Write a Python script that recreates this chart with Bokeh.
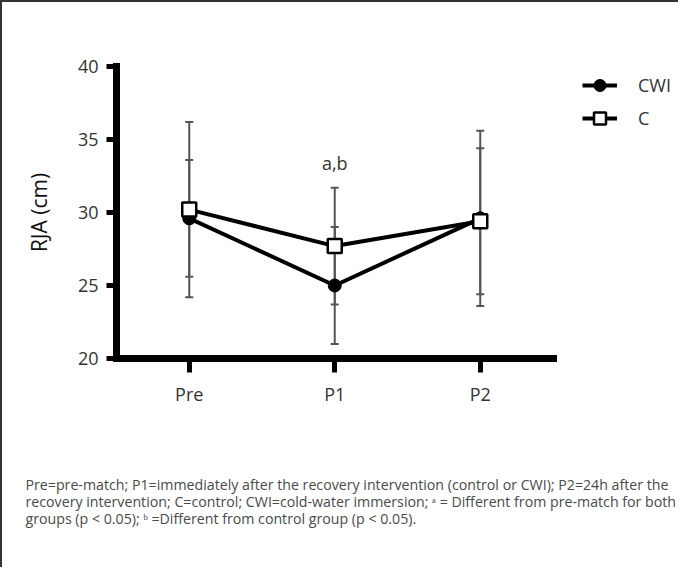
from bokeh.plotting import figure
from bokeh.models import (ColumnDataSource, Whisker, TeeHead, Legend, LegendItem,
                          Title, FixedTicker, Range1d)
from bokeh.embed import file_html
from bokeh.resources import INLINE
from bokeh.core.properties import value

# ---------------- data ----------------
categories = ["Pre", "P1", "P2"]
cwi_mean = [29.6, 25.0, 29.6]
cwi_sd = [4.0, 4.0, 6.0]
c_mean = [30.2, 27.7, 29.4]
c_sd = [6.0, 4.0, 5.0]
y_ticks = [20, 25, 30, 35, 40]
series_names = ["CWI", "C"]
annot_text = ["a,b"]
annot_cat = ["P1"]
y_label = "RJA (cm)"
footnote_lines = [
    "Pre=pre-match; P1=immediately after the recovery intervention (control or CWI); P2=24h after the",
    "recovery intervention; C=control; CWI=cold-water immersion; \u1d43 = Different from pre-match for both",
    "groups (p < 0.05); \u1d47 =Different from control group (p < 0.05).",
]

FONT = "Open Sans"
TXT = "#333333"
W, H = 678, 567
LEFT = 114
PX_PER_CAT = 145.5

x_pos = list(range(len(categories)))
x_end = -0.5 + (W - LEFT) / PX_PER_CAT

p = figure(x_range=Range1d(-0.5, x_end), y_range=Range1d(20, 40),
           width=W, height=H, output_backend="svg", toolbar_location=None,
           min_border_left=LEFT, min_border_right=0,
           min_border_top=64, min_border_bottom=211)
p.styles = {"border-left": "2px solid #333333", "border-top": "2px solid #333333"}
p.grid.visible = False
p.outline_line_color = None
p.background_fill_color = "white"
p.border_fill_color = "white"

for ax in (p.xaxis[0], p.yaxis[0]):
    ax.axis_line_width = 7
    ax.axis_line_color = "black"
    ax.axis_line_cap = "square"
    ax.major_tick_line_width = 5
    ax.major_tick_line_color = "black"
    ax.major_tick_in = 0
    ax.minor_tick_out = 0
    ax.minor_tick_in = 0
    ax.major_label_text_font = FONT
    ax.major_label_text_font_size = "18px"
    ax.major_label_text_color = TXT

p.xaxis.ticker = FixedTicker(ticks=x_pos, minor_ticks=[])
p.xaxis.major_label_overrides = {i: c for i, c in zip(x_pos, categories)}
p.xaxis.bounds = (-0.5, len(categories) - 0.5)
p.xaxis.major_tick_out = 14
p.xaxis.major_label_standoff = 9
p.yaxis.major_tick_out = 10
p.yaxis.major_label_standoff = 8
p.yaxis.ticker = FixedTicker(ticks=y_ticks, minor_ticks=[])
p.yaxis.axis_label = y_label
p.yaxis.axis_label_text_font = FONT
p.yaxis.axis_label_text_font_size = "21px"
p.yaxis.axis_label_text_font_style = "normal"
p.yaxis.axis_label_text_color = "#111111"
p.yaxis.axis_label_standoff = 22

src_cwi = ColumnDataSource(dict(
    x=x_pos, y=cwi_mean,
    lo=[m - s for m, s in zip(cwi_mean, cwi_sd)],
    hi=[m + s for m, s in zip(cwi_mean, cwi_sd)]))
src_c = ColumnDataSource(dict(
    x=x_pos, y=c_mean,
    lo=[m - s for m, s in zip(c_mean, c_sd)],
    hi=[m + s for m, s in zip(c_mean, c_sd)]))

ERR = "#555555"
for src in (src_cwi, src_c):
    w = Whisker(source=src, base="x", lower="lo", upper="hi",
                line_color=ERR, line_width=2,
                upper_head=TeeHead(size=8, line_color=ERR, line_width=2),
                lower_head=TeeHead(size=8, line_color=ERR, line_width=2))
    p.add_layout(w)

l_cwi = p.line("x", "y", source=src_cwi, line_width=4, line_color="black")
l_c = p.line("x", "y", source=src_c, line_width=4, line_color="black")
s_cwi = p.scatter("x", "y", source=src_cwi, marker="circle", size=13,
                  fill_color="black", line_color="black")
s_c = p.scatter("x", "y", source=src_c, marker="square", size=14,
                fill_color="white", line_color="black", line_width=2.5)

annot_x = [categories.index(c) for c in annot_cat]
annot_y = [max(c_mean[1] + c_sd[1], cwi_mean[1] + cwi_sd[1]) + 1.7]
p.text(x=annot_x, y=annot_y, text=annot_text, text_font=value(FONT),
       text_font_size="18px", text_align="center", text_baseline="middle",
       text_color=TXT)

legend = Legend(items=[LegendItem(label=series_names[0], renderers=[l_cwi, s_cwi]),
                       LegendItem(label=series_names[1], renderers=[l_c, s_c])],
                location=(466, 225), padding=0, margin=0, spacing=3,
                glyph_width=35, glyph_height=30, label_height=30,
                label_standoff=21, label_text_font=FONT,
                label_text_font_size="18px", label_text_color=TXT,
                border_line_color=None, background_fill_alpha=0)
p.add_layout(legend)

# spacer between axis and footnote
p.add_layout(Title(text=" ", standoff=45, text_font=FONT, text_font_size="14px"), "below")
for line in footnote_lines:
    t = Title(text=line, align="left", offset=-91, standoff=-4.2,
              text_font=FONT, text_font_size="14.2px", text_font_style="normal",
              text_color="#4a4a4a")
    p.add_layout(t, "below")

open("out.html", "w").write(file_html(p, INLINE))
